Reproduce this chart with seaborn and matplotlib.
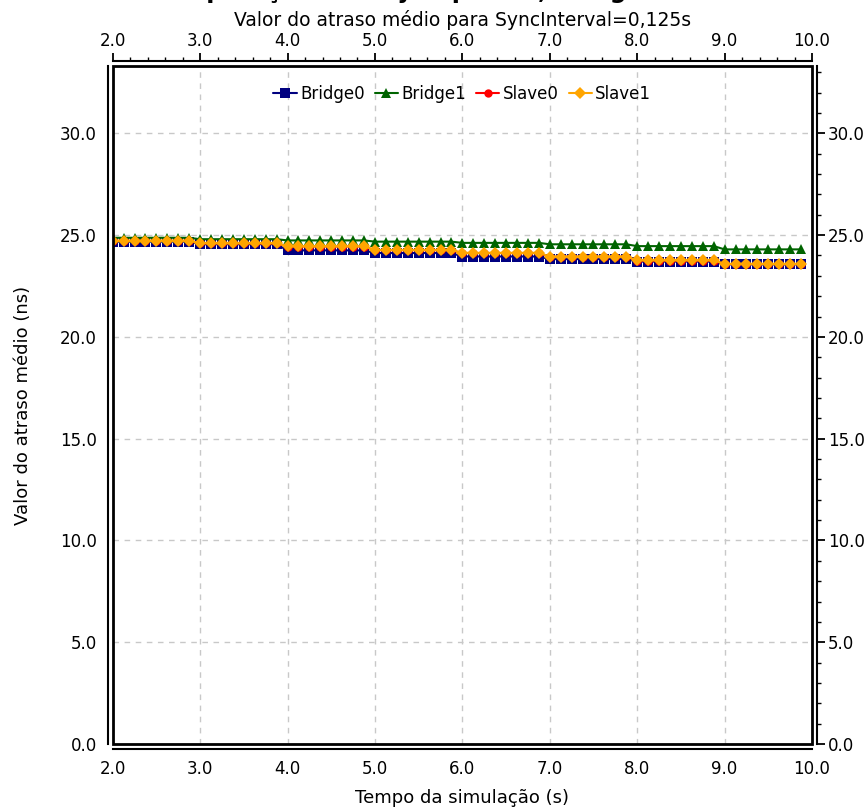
import numpy as np
import pandas as pd
import matplotlib
matplotlib.use("Agg")
import matplotlib.pyplot as plt
import seaborn as sns
from matplotlib.ticker import MultipleLocator, FormatStrFormatter
from matplotlib.patches import Rectangle

# ---- data ----
time_s = [
    2.0, 2.125, 2.25, 2.375, 2.5, 2.625, 2.75, 2.875,
    3.0, 3.125, 3.25, 3.375, 3.5, 3.625, 3.75, 3.875,
    4.0, 4.125, 4.25, 4.375, 4.5, 4.625, 4.75, 4.875,
    5.0, 5.125, 5.25, 5.375, 5.5, 5.625, 5.75, 5.875,
    6.0, 6.125, 6.25, 6.375, 6.5, 6.625, 6.75, 6.875,
    7.0, 7.125, 7.25, 7.375, 7.5, 7.625, 7.75, 7.875,
    8.0, 8.125, 8.25, 8.375, 8.5, 8.625, 8.75, 8.875,
    9.0, 9.125, 9.25, 9.375, 9.5, 9.625, 9.75, 9.875,
]
bridge0 = [
    24.68, 24.68, 24.68, 24.68, 24.68, 24.68, 24.68, 24.68,
    24.55, 24.55, 24.55, 24.55, 24.55, 24.55, 24.55, 24.55,
    24.25, 24.25, 24.25, 24.25, 24.25, 24.25, 24.25, 24.25,
    24.12, 24.12, 24.12, 24.12, 24.12, 24.12, 24.12, 24.12,
    23.95, 23.95, 23.95, 23.95, 23.95, 23.95, 23.95, 23.95,
    23.82, 23.82, 23.82, 23.82, 23.82, 23.82, 23.82, 23.82,
    23.70, 23.70, 23.70, 23.70, 23.70, 23.70, 23.70, 23.70,
    23.56, 23.56, 23.56, 23.56, 23.56, 23.56, 23.56, 23.56,
]
bridge1 = [
    24.87, 24.87, 24.87, 24.87, 24.87, 24.87, 24.87, 24.87,
    24.80, 24.80, 24.80, 24.80, 24.80, 24.80, 24.80, 24.80,
    24.74, 24.74, 24.74, 24.74, 24.74, 24.74, 24.74, 24.74,
    24.68, 24.68, 24.68, 24.68, 24.68, 24.68, 24.68, 24.68,
    24.62, 24.62, 24.62, 24.62, 24.62, 24.62, 24.62, 24.62,
    24.55, 24.55, 24.55, 24.55, 24.55, 24.55, 24.55, 24.55,
    24.46, 24.46, 24.46, 24.46, 24.46, 24.46, 24.46, 24.46,
    24.30, 24.30, 24.30, 24.30, 24.30, 24.30, 24.30, 24.30,
]
slave0 = [
    24.72, 24.72, 24.72, 24.72, 24.72, 24.72, 24.72, 24.72,
    24.59, 24.59, 24.59, 24.59, 24.59, 24.59, 24.59, 24.59,
    24.44, 24.44, 24.44, 24.44, 24.44, 24.44, 24.44, 24.44,
    24.26, 24.26, 24.26, 24.26, 24.26, 24.26, 24.26, 24.26,
    24.12, 24.12, 24.12, 24.12, 24.12, 24.12, 24.12, 24.12,
    23.94, 23.94, 23.94, 23.94, 23.94, 23.94, 23.94, 23.94,
    23.75, 23.75, 23.75, 23.75, 23.75, 23.75, 23.75, 23.75,
    23.58, 23.58, 23.58, 23.58, 23.58, 23.58, 23.58, 23.58,
]
slave1 = [
    24.73, 24.73, 24.73, 24.73, 24.73, 24.73, 24.73, 24.73,
    24.60, 24.60, 24.60, 24.60, 24.60, 24.60, 24.60, 24.60,
    24.45, 24.45, 24.45, 24.45, 24.45, 24.45, 24.45, 24.45,
    24.27, 24.27, 24.27, 24.27, 24.27, 24.27, 24.27, 24.27,
    24.13, 24.13, 24.13, 24.13, 24.13, 24.13, 24.13, 24.13,
    23.95, 23.95, 23.95, 23.95, 23.95, 23.95, 23.95, 23.95,
    23.76, 23.76, 23.76, 23.76, 23.76, 23.76, 23.76, 23.76,
    23.59, 23.59, 23.59, 23.59, 23.59, 23.59, 23.59, 23.59,
]
series_names = ["Bridge0", "Bridge1", "Slave0", "Slave1"]
x_ticks = [2.0, 3.0, 4.0, 5.0, 6.0, 7.0, 8.0, 9.0, 10.0]
y_ticks = [0.0, 5.0, 10.0, 15.0, 20.0, 25.0, 30.0]

title_text = "Comparação PTP Sync por nó, Bridges e Slaves"
subtitle_text = "Valor do atraso médio para SyncInterval=0,125s"

# ---- style ----
sns.set_style("white")
plt.rcParams["font.family"] = ["DejaVu Sans"]
plt.rcParams["text.color"] = "black"
plt.rcParams["axes.labelcolor"] = "black"
plt.rcParams["xtick.color"] = "black"
plt.rcParams["ytick.color"] = "black"

colors = {"Bridge0": "#000080", "Bridge1": "#006400", "Slave0": "#ff0000", "Slave1": "#ffa500"}
markers = {"Bridge0": "s", "Bridge1": "^", "Slave0": "o", "Slave1": "D"}
msizes = {"Bridge0": 7, "Bridge1": 7, "Slave0": 6, "Slave1": 6}

df = pd.DataFrame({"t": time_s, "Bridge0": bridge0, "Bridge1": bridge1,
                   "Slave0": slave0, "Slave1": slave1})
long = df.melt(id_vars="t", var_name="serie", value_name="v")

fig = plt.figure(figsize=(8.67, 8.07), dpi=100)
ax = fig.add_axes([0.130, 0.078, 0.8066, 0.840])

for name in series_names:
    sub = long[long["serie"] == name]
    sns.lineplot(data=sub, x="t", y="v", ax=ax, color=colors[name],
                 marker=markers[name], markersize=msizes[name],
                 markeredgewidth=0, linewidth=1.5, label=name, zorder=3)

ax.set_xlim(2.0, 10.0)
ax.set_ylim(0.0, 33.3)
ax.set_xticks(x_ticks)
ax.set_yticks(y_ticks)
ax.xaxis.set_major_formatter(FormatStrFormatter("%.1f"))
ax.yaxis.set_major_formatter(FormatStrFormatter("%.1f"))
ax.xaxis.set_minor_locator(MultipleLocator(0.2))
ax.yaxis.set_minor_locator(MultipleLocator(1.0))

ax.tick_params(axis="both", which="major", direction="out", length=6, width=1.3,
               labelsize=12, top=True, right=True, labeltop=True, labelright=True,
               pad=2, colors="black")
ax.tick_params(axis="both", which="minor", direction="out", length=3, width=1.0,
               top=True, right=True, colors="black")

for side in ["left", "right", "top", "bottom"]:
    ax.spines[side].set_position(("outward", 3.5))
    ax.spines[side].set_linewidth(1.5)
    ax.spines[side].set_visible(True)
    ax.spines[side].set_color("black")

ax.add_patch(Rectangle((0, 0), 1, 1, transform=ax.transAxes, fill=False,
                       edgecolor="black", linewidth=2.0, zorder=5, clip_on=False))

ax.grid(True, which="major", linestyle=(0, (4, 4)), color="#c8c8c8", linewidth=1.0)
ax.set_axisbelow(True)

ax.set_xlabel("Tempo da simulação (s)", fontsize=13, labelpad=8, color="black")
ax.set_ylabel("Valor do atraso médio (ns)", fontsize=13, labelpad=20, color="black")

leg = ax.legend(loc="upper center", ncol=4, frameon=False, fontsize=12,
                handlelength=1.4, handletextpad=0.2, columnspacing=0.6,
                bbox_to_anchor=(0.5, 0.995))
for txt in leg.get_texts():
    txt.set_color("black")

fig.text(0.533, 1.002, title_text, ha="center", va="baseline",
         fontsize=17, fontweight="bold", color="black")
fig.text(0.533, 0.975, subtitle_text, ha="center", va="center", fontsize=13.5,
         color="black")

fig.savefig("out.png", dpi=100)
